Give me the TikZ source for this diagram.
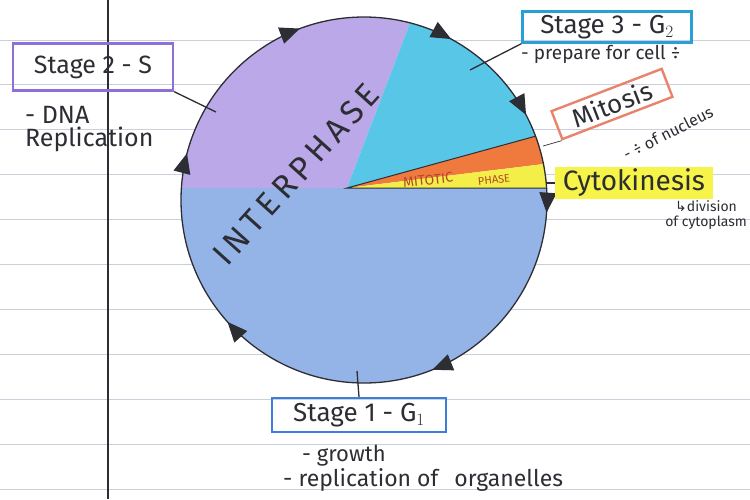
\documentclass[tikz,border=0pt]{standalone}
\usepackage{fontspec}
\setmainfont{Fira Sans}
\newfontfamily\symfont{DejaVu Sans}
\newfontfamily\wideface{Fira Sans}[LetterSpace=16]
\usepackage{tikz}
\usetikzlibrary{arrows.meta, positioning, calc, decorations.markings}

\definecolor{ruled}{RGB}{202,208,218}
\definecolor{pencil}{RGB}{45,45,52}
\definecolor{sphase}{RGB}{186,168,232}
\definecolor{gtwo}{RGB}{88,198,230}
\definecolor{mphase}{RGB}{240,122,62}
\definecolor{cphase}{RGB}{244,238,72}
\definecolor{gone}{RGB}{148,180,232}
\definecolor{sbox}{RGB}{140,112,215}
\definecolor{gtwobox}{RGB}{40,160,215}
\definecolor{mbox}{RGB}{232,132,108}
\definecolor{gonebox}{RGB}{60,126,222}
\definecolor{hilite}{RGB}{246,244,72}
\definecolor{mitred}{RGB}{178,72,40}

\begin{document}
\begin{tikzpicture}[
    x=1pt, y=-1pt,
    stagebox/.style={rectangle, draw=#1, line width=2.4pt, inner sep=0pt, text=pencil},
    note/.style={text=pencil, inner sep=0pt, align=left},
    link/.style={draw=pencil, line width=1.3pt},
    cyclering/.style={draw=pencil, line width=1.3pt, postaction={decorate},
      decoration={markings,
        mark=at position 0.011 with {\arrow{Triangle[length=20pt,width=17pt]}},
        mark=at position 0.189 with {\arrow{Triangle[length=20pt,width=17pt]}},
        mark=at position 0.384 with {\arrow{Triangle[length=20pt,width=17pt]}},
        mark=at position 0.541 with {\arrow{Triangle[length=20pt,width=17pt]}},
        mark=at position 0.693 with {\arrow{Triangle[length=20pt,width=17pt]}},
        mark=at position 0.829 with {\arrow{Triangle[length=20pt,width=17pt]}},
        mark=at position 0.923 with {\arrow{Triangle[length=20pt,width=17pt]}}}}
]
% lined paper
\fill[white] (0,0) rectangle (750,499);
\useasboundingbox (0,0) rectangle (750,499);
\foreach \k in {0,...,10}
  \draw[ruled, line width=0.9pt] (0,{40+44.9*\k}) -- (750,{40+44.9*\k});
\draw[pencil, line width=1.2pt] (108,0) -- (108,499);

% the cycle
\coordinate (c) at (364,200);
\coordinate (apex) at (347,188);
\begin{scope}
  \clip (c) circle [radius=183];
  \fill[sphase] (apex) -- (100,188) -- (100,-100) -- (457,-100) -- cycle;
  \fill[gtwo] (apex) -- (457,-100) -- (700,-100) -- (700,91) -- cycle;
  \fill[mphase] (apex) -- (700,91) -- (700,145) -- cycle;
  \fill[cphase] (apex) -- (700,145) -- (700,188) -- cycle;
  \fill[gone] (apex) -- (700,188) -- (700,450) -- (100,450) -- (100,188) -- cycle;
  \draw[pencil, line width=1pt] (700,91) -- (apex) -- (700,188);
\end{scope}
\draw[cyclering] (c) circle [radius=183];

\node[text=pencil, rotate=48, font=\wideface\fontsize{33}{33}\selectfont] (inter) at (296,174) {INTERPHASE};
\node[text=mitred, rotate=6, font=\fontsize{14}{14}\selectfont, inner sep=0pt] (mito) at (428,180) {MITOTIC};
\node[text=mitred, rotate=6, font=\fontsize{11}{11}\selectfont, inner sep=0pt] (mphase) at (494,180) {PHASE};

% S phase
\node[stagebox=sbox, minimum width=160pt, minimum height=47pt, font=\fontsize{25}{25}\selectfont] (s2) at (93,67) {Stage 2 - S};
\node[note, anchor=north west, font=\fontsize{25}{23}\selectfont] (s2txt) at (25,106) {- DNA\\Replication};
\coordinate (s2end) at (216,112);
\draw[link] (s2.south east) -- (s2end);

% G2 phase
\node[stagebox=gtwobox, minimum width=169pt, minimum height=31pt, font=\fontsize{26}{26}\selectfont] (g2) at (607,27) {Stage 3 - G$_2$};
\node[note, anchor=north west, font=\fontsize{19}{19}\selectfont] (g2txt) at (521,45) {- prepare for cell ÷};
\coordinate (g2end) at (470,70);
\draw[link] (g2.south west) -- (g2end);

% mitosis
\node[stagebox=mbox, rotate=21, minimum width=118pt, minimum height=30pt, font=\fontsize{26}{26}\selectfont] (mit) at (612,104) {Mitosis};
\node[note, rotate=27, font=\fontsize{16}{16}\selectfont] (mittxt) at (668,133) {- ÷ of nucleus};
\coordinate (mitend) at (543,146);
\draw[pencil, line width=0.7pt] (mit.south west) -- (mitend);

% cytokinesis
\node[fill=hilite, text=pencil, inner sep=2pt, minimum width=158pt, minimum height=28pt, font=\fontsize{28}{28}\selectfont] (cyto) at (634,183) {Cytokinesis};
\node[note, align=center, anchor=north east, font=\fontsize{14}{15}\selectfont] (cytotxt) at (747,200) {{\symfont ↳}division\\of cytoplasm};
\coordinate (cytoend) at (546,183);
\draw[link] (cytoend) -- (cyto.west);

% G1 phase
\node[stagebox=gonebox, minimum width=174pt, minimum height=34pt, font=\fontsize{26}{26}\selectfont] (g1) at (359,415) {Stage 1 - G$_1$};
\node[note, anchor=west, font=\fontsize{22}{22}\selectfont] (g1a) at (302,456) {- growth};
\node[note, anchor=west, font=\fontsize{23}{23}\selectfont] (g1b) at (283,480) {- replication of\hspace{16pt}organelles};
\coordinate (g1end) at (357,371);
\draw[link] (g1.north) -- (g1end);
\end{tikzpicture}
\end{document}
